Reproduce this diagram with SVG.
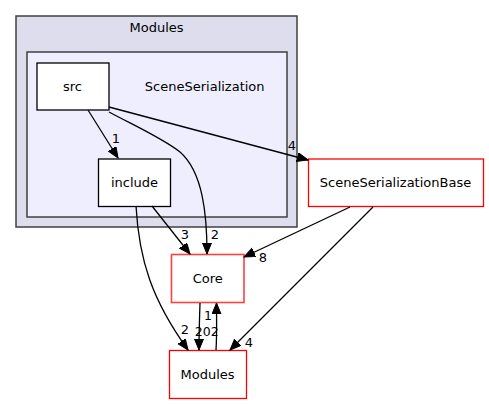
<svg xmlns="http://www.w3.org/2000/svg" width="489" height="404" viewBox="0 0 489 404">
<style>
text{font-family:"DejaVu Sans","Liberation Sans",sans-serif;font-size:13px;fill:#000}
.c{text-anchor:middle}
.e{fill:none;stroke:#000;stroke-width:1.3}
.box{fill:#fff;stroke:#000;stroke-width:1.3}
.red{fill:#fff;stroke:#ff0000;stroke-width:1.3}
.lred{fill:#fff;stroke:#ff4040;stroke-width:1.6}
</style>
<defs>
<marker id="ah" markerUnits="userSpaceOnUse" markerWidth="12" markerHeight="10" refX="11" refY="4.5" orient="auto">
<polygon points="0,0 11,4.5 0,9" fill="#000" stroke="#000" stroke-width="1"/>
</marker>
</defs>
<rect width="489" height="404" fill="#fff"/>
<g id="cluster_modules">
<rect x="16" y="16" width="281" height="211" fill="#ddddee" stroke="#404040" stroke-width="1.5"/>
<text class="c" x="156.5" y="32">Modules</text>
</g>
<g id="cluster_sceneserialization">
<rect x="27" y="52" width="260" height="165" fill="#eeeeff" stroke="#404040" stroke-width="1.5"/>
<text class="c" x="204.7" y="90.5">SceneSerialization</text>
</g>
<g id="node_src">
<rect class="box" x="37" y="63" width="72" height="47"/>
<text class="c" x="72.5" y="91">src</text>
</g>
<g id="node_include">
<rect class="box" x="98.5" y="159" width="72" height="47.5"/>
<text class="c" x="134.5" y="187">include</text>
</g>
<g id="node_ssb">
<rect class="red" x="308.5" y="159" width="175" height="47.5"/>
<text class="c" x="395.5" y="187">SceneSerializationBase</text>
</g>
<g id="node_core">
<rect class="lred" x="171.5" y="254.5" width="72.5" height="48"/>
<text class="c" x="207.8" y="282.5">Core</text>
</g>
<g id="node_modules">
<rect class="red" x="169.5" y="350.5" width="77" height="48"/>
<text class="c" x="207.5" y="378.5">Modules</text>
</g>
<g id="connectors">
<path class="e" d="M88,110 L118,158" marker-end="url(#ah)"/>
<text class="c" x="116" y="143">1</text>
<path class="e" d="M109,112 C135,126 162,138 180,152 C203,172 207,215 207,254" marker-end="url(#ah)"/>
<text class="c" x="215" y="239">2</text>
<path class="e" d="M109,107 L308,160" marker-end="url(#ah)"/>
<text class="c" x="292" y="150">4</text>
<path class="e" d="M152,206 L190,254" marker-end="url(#ah)"/>
<text class="c" x="185" y="239">3</text>
<path class="e" d="M136,206 C139,260 152,300 188,350" marker-end="url(#ah)"/>
<text class="c" x="185" y="334">2</text>
<path class="e" d="M350,207 L244,257" marker-end="url(#ah)"/>
<text class="c" x="263" y="262">8</text>
<path class="e" d="M373,207 L230,350" marker-end="url(#ah)"/>
<text class="c" x="249" y="347">4</text>
<path class="e" d="M200,303 C199.5,318 199,333 199,350" marker-end="url(#ah)"/>
<text class="c" x="206.7" y="336" style="font-size:12.5px">202</text>
<path class="e" d="M216,350 C217,335 216.5,318 216.5,303" marker-end="url(#ah)"/>
<text class="c" x="208" y="320" style="font-size:12.5px">1</text>
</g>
</svg>
